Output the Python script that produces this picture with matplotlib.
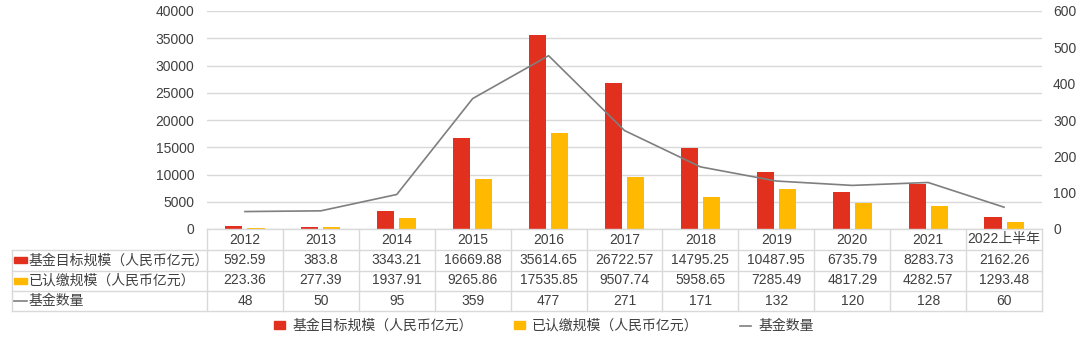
import numpy as np
import matplotlib.pyplot as plt
from matplotlib.lines import Line2D
from matplotlib.patches import Patch, Rectangle

plt.rcParams['font.family'] = ['Liberation Sans', 'Noto Sans CJK SC', 'DejaVu Sans']

years = ['2012', '2013', '2014', '2015', '2016', '2017', '2018', '2019', '2020', '2021', '2022上半年']
target = [592.59, 383.8, 3343.21, 16669.88, 35614.65, 26722.57, 14795.25, 10487.95, 6735.79, 8283.73, 2162.26]
paid = [223.36, 277.39, 1937.91, 9265.86, 17535.85, 9507.74, 5958.65, 7285.49, 4817.29, 4282.57, 1293.48]
count = [48, 50, 95, 359, 477, 271, 171, 132, 120, 128, 60]

target_txt = ['592.59', '383.8', '3343.21', '16669.88', '35614.65', '26722.57', '14795.25', '10487.95', '6735.79', '8283.73', '2162.26']
paid_txt = ['223.36', '277.39', '1937.91', '9265.86', '17535.85', '9507.74', '5958.65', '7285.49', '4817.29', '4282.57', '1293.48']
count_txt = [str(c) for c in count]

lab_target = '基金目标规模（人民币亿元）'
lab_paid = '已认缴规模（人民币亿元）'
lab_count = '基金数量'

red = '#E1301E'
yellow = '#FFB900'
gray = '#7F7F7F'
grid = '#D9D9D9'
txt = '#404040'

W, H = 1080, 345
fig = plt.figure(figsize=(W / 100, H / 100), dpi=100)

# plot area in pixels
L, R, T, B = 207, 1042, 11, 229
ax = fig.add_axes([L / W, 1 - B / H, (R - L) / W, (B - T) / H])
ax2 = ax.twinx()

x = np.arange(len(years))
bw = 0.225
ax.bar(x - 0.145, target, bw, color=red, zorder=2)
ax.bar(x + 0.145, paid, bw, color=yellow, zorder=2)
ax2.plot(x, count, color=gray, lw=1.2)

ax.set_xlim(-0.5, len(years) - 0.5)
ax.set_ylim(0, 40000)
ax.set_yticks(np.arange(0, 40001, 5000))
ax2.set_ylim(0, 600)
ax2.set_yticks(np.arange(0, 601, 100))
ax.set_xticks([])
ax.yaxis.grid(True, color=grid, lw=1)
ax.set_axisbelow(True)
for a in (ax, ax2):
    for s in a.spines.values():
        s.set_visible(False)
    a.tick_params(length=0, labelsize=10, labelcolor=txt)
ax.tick_params(axis='y', pad=9)
ax2.tick_params(axis='y', pad=8)

# data table below the plot
def fx(px):
    return px / W

def fy(py):
    return 1 - py / H

edges = np.linspace(L, R, len(years) + 1)
rows = [229, 250, 270.5, 290.5, 311]
tl = 12

def hline(x0, x1, y):
    fig.add_artist(Line2D([fx(x0), fx(x1)], [fy(y), fy(y)], color=grid, lw=1))

def vline(xp, y0, y1):
    fig.add_artist(Line2D([fx(xp), fx(xp)], [fy(y0), fy(y1)], color=grid, lw=1))

hline(L, R, rows[0])
for y in rows[1:]:
    hline(tl, R, y)
vline(tl, rows[1], rows[4])
for e in edges:
    vline(e, rows[0], rows[4])

centers = (edges[:-1] + edges[1:]) / 2
table_rows = [years, target_txt, paid_txt, count_txt]
for r, vals in enumerate(table_rows):
    yc = (rows[r] + rows[r + 1]) / 2
    for cx, v in zip(centers, vals):
        fig.text(fx(cx), fy(yc), v, ha='center', va='center', fontsize=10, color=txt)

# row headers
for r, (lab, kind) in enumerate([(lab_target, red), (lab_paid, yellow), (lab_count, None)], start=1):
    yc = (rows[r] + rows[r + 1]) / 2
    if kind is None:
        fig.add_artist(Line2D([fx(14), fx(27)], [fy(yc), fy(yc)], color=gray, lw=1.2))
    else:
        fig.add_artist(Rectangle((fx(14), fy(yc + 3)), (13) / W, 6 / H, color=kind,
                                 transform=fig.transFigure))
    fig.text(fx(29), fy(yc), lab, ha='left', va='center', fontsize=10, color=txt)

handles = [Patch(color=red), Patch(color=yellow), Line2D([], [], color=gray, lw=1.2)]
fig.legend(handles, [lab_target, lab_paid, lab_count], loc='center', ncol=3,
           bbox_to_anchor=(fx(544), fy(326)), frameon=False, fontsize=10,
           handlelength=0.8, handleheight=0.5, handletextpad=0.5, columnspacing=3.0,
           labelcolor=txt)

fig.savefig('out.png', dpi=100)
